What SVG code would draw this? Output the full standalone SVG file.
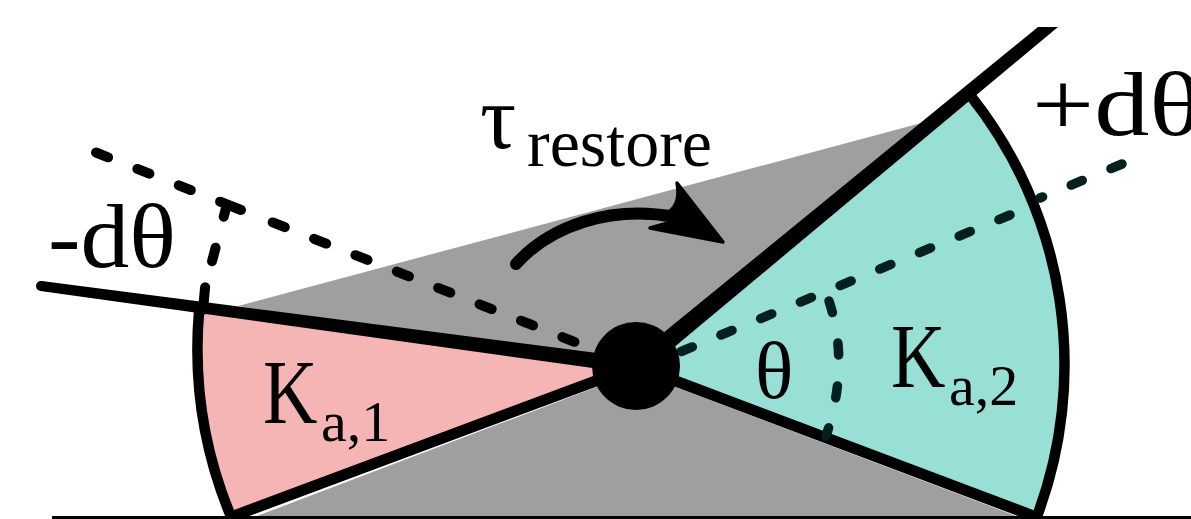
<svg xmlns="http://www.w3.org/2000/svg" width="1191" height="519" viewBox="0 0 1191 519">
<style>
.t{font-family:"Liberation Serif","Times New Roman",serif;fill:#000}
.arc{fill:none;stroke:#000;stroke-width:10.5}
.d{fill:none;stroke:#000;stroke-width:10;stroke-linecap:round}
.dk{fill:none;stroke:#02211e;stroke-width:9.5;stroke-linecap:round}
</style>
<rect width="1191" height="519" fill="#fff"/>
<g id="grey-wedges">
<polygon points="238,306 925,122 960,105 636,366" fill="#9f9f9f"/>
<polygon points="636,372 257,516 1016,516" fill="#9f9f9f"/>
</g>
<g id="wedge-ka1">
<path d="M200,310 L636,366 L231,517 A438,438 0 0 1 200,310Z" fill="#f5b5b5"/>
<path d="M232,519 A438,438 0 0 1 199,312" class="arc"/>
</g>
<g id="wedge-ka2">
<path d="M970,95 L636,366 L1036,517 A432,432 0 0 0 970,95Z" fill="#98dfd6"/>
<path d="M970,95 A432,432 0 0 1 1036,519" class="arc"/>
</g>
<g id="connectors">
<circle cx="41" cy="286" r="5" fill="#000"/>
<polygon points="41.7,281 636,358 636,374 40.3,291" fill="#000"/>
<polygon points="1038,27 1058,27 642,374 630,360" fill="#000"/>
<path d="M636,366 L231,517" fill="none" stroke="#000" stroke-width="11"/>
<path d="M636,366 L1036,517" fill="none" stroke="#000" stroke-width="11"/>
<rect x="52" y="516" width="1139" height="3" fill="#000"/>
<path d="M96,152.5 L241,210" class="d" stroke-dasharray="13 31.5 13 31.5 13 31.5 22.5 40"/>
<path d="M272.7,222.4 L595,350" class="d" stroke-dasharray="13 31.5"/>
<path d="M1122,164 L1040,198" class="dk" stroke-dasharray="12 31"/>
<path d="M1010,215 L680,352" class="dk" stroke-dasharray="12 31"/>
<path d="M226,208 L205,288 L203,310" class="d" stroke-dasharray="9 32 14 27 30 10"/>
<path d="M829,301 Q850,365 826,436" class="dk" stroke-dasharray="12 31"/>
<path d="M516,264 C550,226 610,205 675,217" fill="none" stroke="#000" stroke-width="12" stroke-linecap="round"/>
<path d="M677,183 Q681,203 669,212 L672,222 L650,228 L723,242 Z" fill="#000" stroke="#000" stroke-width="3.5" stroke-linejoin="round"/>
</g>
<g id="hinge"><circle cx="636" cy="366" r="44" fill="#000"/></g>
<g id="labels">
<text class="t" x="48" y="267" font-size="92" textLength="128" lengthAdjust="spacingAndGlyphs">-dθ</text>
<text class="t" x="480" y="148" font-size="90">τ<tspan x="527" y="166" font-size="68">restore</tspan></text>
<text class="t" x="1032" y="135" font-size="92" textLength="170" lengthAdjust="spacingAndGlyphs">+dθ</text>
<text class="t" x="755" y="398" font-size="80">θ</text>
<text class="t" font-size="92" transform="translate(263,423) scale(.82,1)">K</text>
<text class="t" x="321" y="441" font-size="58">a,1</text>
<text class="t" font-size="92" transform="translate(891,387) scale(.82,1)">K</text>
<text class="t" x="949" y="405" font-size="58">a,2</text>
</g>
</svg>
